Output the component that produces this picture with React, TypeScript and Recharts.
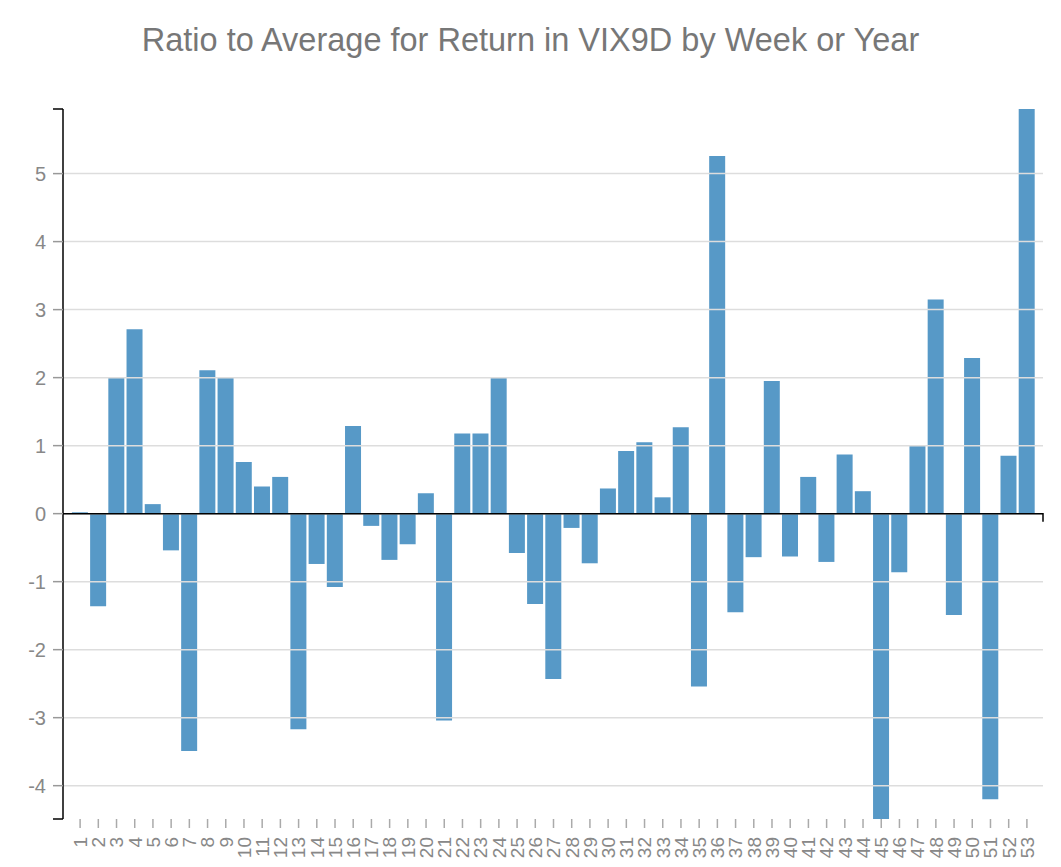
import { BarChart, Bar, XAxis, YAxis, ReferenceLine } from 'recharts';

const weeks = Array.from({ length: 53 }, (_, i) => String(i + 1));

const ratios = [
  0.02, -1.36, 2.01, 2.71, 0.14, -0.54, -3.49, 2.11, 2.01, 0.76,
  0.4, 0.54, -3.17, -0.74, -1.08, 1.29, -0.18, -0.68, -0.45, 0.3,
  -3.04, 1.18, 1.18, 2.01, -0.58, -1.33, -2.43, -0.21, -0.73, 0.37,
  0.92, 1.05, 0.24, 1.27, -2.54, 5.26, -1.45, -0.64, 1.95, -0.63,
  0.54, -0.71, 0.87, 0.33, -4.49, -0.86, 1.01, 3.15, -1.49, 2.29,
  -4.2, 0.85, 5.95,
];

const yTicks = [-4, -3, -2, -1, 0, 1, 2, 3, 4, 5];

const data = weeks.map((w, i) => ({ week: w, ratio: ratios[i] }));
const yMax = Math.max(...ratios);
const yMin = Math.min(...ratios);

const WeekTick = (props: any) => {
  const { x, y, payload } = props;
  return (
    <text
      x={x}
      y={y}
      transform={`rotate(-90, ${x}, ${y})`}
      dy="0.36em"
      textAnchor="end"
      fill="#888"
      fontSize={19}
      fontFamily="'Liberation Sans', Arial, sans-serif"
    >
      {payload.value}
    </text>
  );
};

// zero axis: black line with the outer tick at the right end
const ZeroAxis = (props: any) => {
  const { x1, x2, y1 } = props;
  return <path d={`M${x1},${y1}H${x2}V${y1 + 8}`} stroke="#000" strokeWidth={1.5} fill="none" />;
};

// outer end ticks of the y axis
const EndTick = (props: any) => {
  const { x1, y1 } = props;
  return <path d={`M${x1 - 10},${y1}H${x1}`} stroke="#000" strokeWidth={1.5} fill="none" />;
};

export default function App() {
  return (
    <div style={{ width: 1061, height: 867, position: 'relative', fontFamily: "'Liberation Sans', Arial, sans-serif" }}>
      <div
        style={{
          position: 'absolute',
          top: 14,
          left: -8,
          width: 1061,
          textAlign: 'center',
          fontSize: 32.5,
          color: '#777',
        }}
      >
        Ratio to Average for Return in VIX9D by Week or Year
      </div>
      <BarChart
        width={1061}
        height={867}
        data={data}
        margin={{ top: 109, right: 18, bottom: 0, left: 8 }}
        barCategoryGap="5%"
        style={{ position: 'absolute', top: -8, left: -8 }}
      >
        {yTicks.map((t) => (
          <ReferenceLine key={t} y={t} stroke="#ddd" strokeWidth={1.5} />
        ))}
        <XAxis
          dataKey="week"
          interval={0}
          padding={{ left: 8, right: 7 }}
          axisLine={false}
          tickLine={{ stroke: '#aaa', strokeWidth: 1.5 }}
          tickSize={9}
          tickMargin={9}
          tick={<WeekTick />}
          height={48}
        />
        <YAxis
          width={55}
          domain={[yMin, yMax]}
          ticks={yTicks}
          allowDataOverflow
          axisLine={{ stroke: '#000', strokeWidth: 1.5 }}
          tickLine={{ stroke: '#999', strokeWidth: 1.5 }}
          tickSize={10}
          tickMargin={7}
          tick={{ fill: '#888', fontSize: 20 }}
        />
        <ReferenceLine y={0} shape={<ZeroAxis />} />
        <ReferenceLine y={yMax} shape={<EndTick />} />
        <ReferenceLine y={yMin} shape={<EndTick />} />
        <Bar dataKey="ratio" fill="#1f77b4" fillOpacity={0.75} isAnimationActive={false} />
      </BarChart>
    </div>
  );
}
